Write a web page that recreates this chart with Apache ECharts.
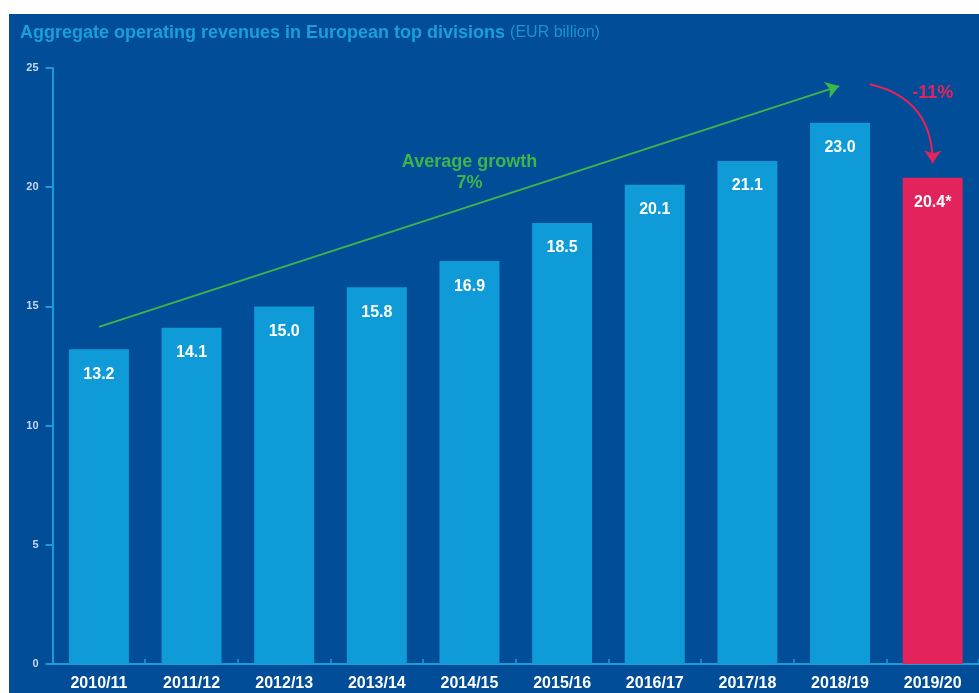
<!DOCTYPE html>
<html>
<head>
<meta charset="utf-8">
<script src="https://cdn.jsdelivr.net/npm/echarts@6/dist/echarts.min.js"></script>
<style>
  html, body { margin: 0; padding: 0; background: #ffffff; }
  #chart { position: absolute; left: 9px; top: 14px; width: 970px; height: 679px; background: #014d98; }
</style>
</head>
<body>
<div id="chart"></div>
<script>
// ---- data ----
const categories = ['2010/11','2011/12','2012/13','2013/14','2014/15','2015/16','2016/17','2017/18','2018/19','2019/20'];
const revenues = [13.2, 14.1, 15.0, 15.8, 16.9, 18.5, 20.1, 21.1, 22.7, 20.4];
const valueLabels = ['13.2','14.1','15.0','15.8','16.9','18.5','20.1','21.1','23.0','20.4*'];
const highlightIndex = 9;
const yMin = 0, yMax = 25, yInterval = 5;
const titleMain = 'Aggregate operating revenues in European top divisions';
const titleUnit = '(EUR billion)';
const growthText = 'Average growth\n7%';
const dropText = '-11%';
// annotation anchors in data space: [category index, value]
const growthArrowFrom = [0, 14.14];
const growthArrowTo = [7.99, 24.24];
const growthTextAt = [4, 20.6];
const dropArrowFrom = [8.32, 24.32];
const dropArrowTo = [9.0, 21.0];
const dropTextAt = [9.0, 23.94];

const BLUE_BAR = '#0e9bd8';
const RED = '#e2235c';
const GREEN = '#3db54a';
const AXIS = '#1b9cd9';
const FONT = 'Liberation Sans, Arial, sans-serif';

const chart = echarts.init(document.getElementById('chart'), null, { renderer: 'canvas' });

const option = {
  backgroundColor: 'transparent',
  animation: false,
  title: {
    text: '{a|' + titleMain + '} {b|' + titleUnit + '}',
    left: 6,
    top: 5,
    textStyle: {
      rich: {
        a: { fontFamily: FONT, fontWeight: 'bold', fontSize: 18, color: '#1a9fdc' },
        b: { fontFamily: FONT, fontWeight: 'normal', fontSize: 16, color: '#1a93d0' }
      }
    }
  },
  grid: { left: 43.6, right: 0, top: 54, bottom: 29 },
  xAxis: [
    {
      type: 'category',
      data: categories,
      axisLine: { lineStyle: { color: AXIS, width: 2 } },
      axisTick: { show: true, inside: true, length: 5, lineStyle: { color: AXIS, width: 1.5 } },
      axisLabel: {
        interval: 0,
        color: '#ffffff', fontWeight: 'bold', fontSize: 16, margin: 12,
        fontFamily: FONT
      }
    },
    {
      type: 'value', min: -0.5, max: 9.5, show: false
    }
  ],
  yAxis: {
    type: 'value',
    min: yMin, max: yMax, interval: yInterval,
    splitLine: { show: false },
    axisLine: { show: true, onZero: false, lineStyle: { color: AXIS, width: 2 } },
    axisTick: { show: true, length: 7, lineStyle: { color: AXIS, width: 2 } },
    axisLabel: { color: '#c8d5e8', fontSize: 11, fontWeight: 'bold', margin: 14, fontFamily: FONT }
  },
  series: [
    {
      type: 'bar',
      barWidth: 60,
      data: revenues.map((v, i) => ({
        value: v,
        itemStyle: { color: i === highlightIndex ? RED : BLUE_BAR }
      })),
      label: {
        show: true,
        position: 'insideTop',
        distance: 17,
        color: '#ffffff',
        fontWeight: 'bold',
        fontSize: 16,
        fontFamily: FONT,
        formatter: p => valueLabels[p.dataIndex]
      }
    },
    {
      type: 'lines',
      coordinateSystem: 'cartesian2d',
      xAxisIndex: 1,
      yAxisIndex: 0,
      silent: true,
      symbol: ['none', 'arrow'],
      symbolSize: 13,
      z: 5,
      lineStyle: { width: 2, opacity: 1 },
      data: [
        { coords: [growthArrowFrom, growthArrowTo], lineStyle: { color: GREEN, width: 2, opacity: 1, curveness: 0 } },
        { coords: [dropArrowFrom, dropArrowTo], lineStyle: { color: RED, width: 2, opacity: 1, curveness: 0.4 } }
      ]
    },
    {
      type: 'scatter',
      xAxisIndex: 1,
      data: [],
      silent: true,
      markPoint: {
        silent: true,
        symbol: 'circle',
        symbolSize: 0,
        data: [
          {
            coord: growthTextAt,
            label: {
              show: true, position: 'inside', formatter: growthText, align: 'center',
              color: GREEN, fontWeight: 'bold', fontSize: 18, lineHeight: 21,
              fontFamily: FONT
            }
          },
          {
            coord: dropTextAt,
            label: {
              show: true, position: 'inside', formatter: dropText,
              color: RED, fontWeight: 'bold', fontSize: 18,
              fontFamily: FONT
            }
          }
        ]
      }
    }
  ]
};
chart.setOption(option);
</script>
</body>
</html>
